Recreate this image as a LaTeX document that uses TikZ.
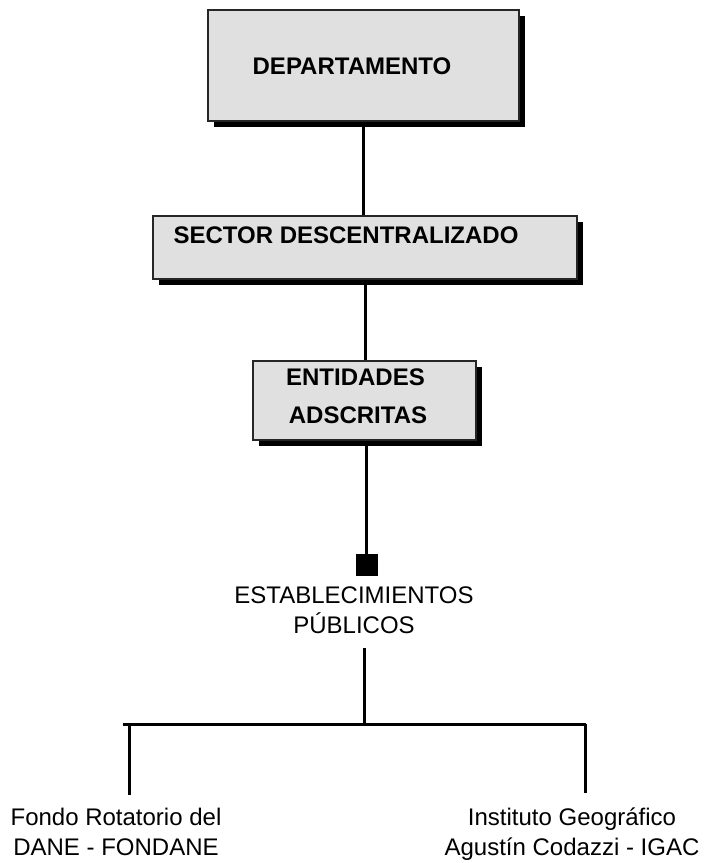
\documentclass[tikz,border=0pt]{standalone}
\usepackage{fontspec}
\setmainfont{Liberation Sans}
\usetikzlibrary{shadows}
\definecolor{boxgray}{RGB}{224,224,224}
\tikzset{
  orgbox/.style={draw=black!85, line width=2pt, fill=boxgray, inner sep=0pt,
    general shadow={fill=black, shadow xshift=6pt, shadow yshift=-6pt}},
  boldtxt/.style={font=\fontsize{24}{30}\selectfont\bfseries, inner sep=0pt, anchor=base},
  plaintxt/.style={font=\fontsize{24}{30}\selectfont, inner sep=0pt, align=center, anchor=base},
  link/.style={line width=3pt}
}

\begin{document}
\begin{tikzpicture}[x=1pt, y=-1pt]
		%%%%% START %%%%%
		\useasboundingbox (0,0) rectangle (704,863);
		
		\node[orgbox, minimum width=311pt, minimum height=111pt] (dep) at (363.5,65.5) {};
		\node[boldtxt] (deptext) at (352,74) {DEPARTAMENTO};
		
		\node[orgbox, minimum width=424pt, minimum height=63pt] (sec) at (365,247.5) {};
		\node[boldtxt] (sectext) at (346,243) {SECTOR DESCENTRALIZADO};
		
		\node[orgbox, minimum width=223pt, minimum height=79pt] (ent) at (364.5,400.5) {};
		\node[boldtxt] (enttop) at (355.5,385) {ENTIDADES};
		\node[boldtxt] (entbot) at (358,423) {ADSCRITAS};
		
		\draw[link] (dep.south) -- (dep.south |- sec.north);
		\draw[link] (sec.south) -- (sec.south |- ent.north);
		
		\node[fill=black, minimum size=22pt, inner sep=0pt] (sq) at (366.5,565) {};
		\draw[link] (sq.north |- ent.south) -- (sq.north);
		% base anchor sits on the last line
		\node[plaintxt] (estab) at (354,633) {ESTABLECIMIENTOS\\ PÚBLICOS};
		
		\coordinate (stemtop) at (364,648);
		\coordinate (stem) at (364,724);
		\coordinate (barleft) at (123,724);
		\coordinate (barright) at (586,724);
		\coordinate (leftdrop) at (129,795);
		\coordinate (rightdrop) at (585,793);
		
		\draw[link] (stemtop) -- (stem);
		\draw[link] (barleft) -- (barright);
		\draw[link] (leftdrop |- stem) -- (leftdrop);
		\draw[link] (rightdrop |- stem) -- (rightdrop);
		
		\node[plaintxt] (fondane) at (116,855) {Fondo Rotatorio del\\ DANE - FONDANE};
		\node[plaintxt] (igac) at (572,855) {Instituto Geográfico\\ Agustín Codazzi - IGAC};
		
		%%%%% END %%%%%
\end{tikzpicture}
\end{document}
